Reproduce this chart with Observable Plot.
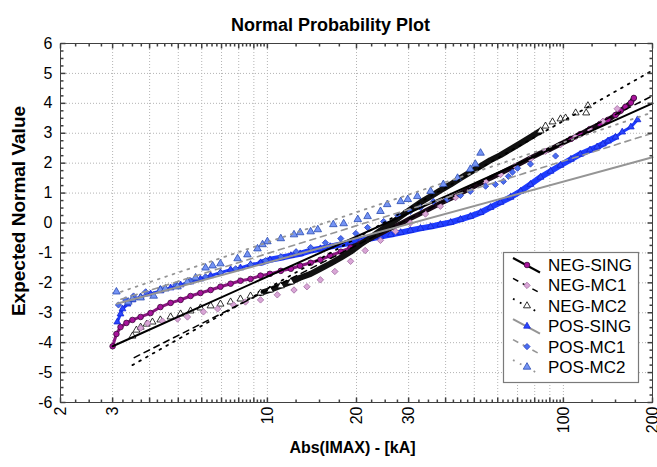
<!DOCTYPE html>
<html>
<head>
<meta charset="utf-8">
<script src="https://cdn.jsdelivr.net/npm/d3@7"></script>
<script src="https://cdn.jsdelivr.net/npm/@observablehq/plot@0.6"></script>
<style>
  html, body { margin: 0; padding: 0; background: white; }
  #wrap { position: relative; width: 657px; height: 467px; }
  #legend { position: absolute; left: 0; top: 0; pointer-events: none; }
</style>
</head>
<body>
<div id="wrap"></div>
<script>
// ---------- data (x = Abs(IMAX) in kA, y = expected normal value) ----------
const xTicks = [2, 3, 4, 5, 6, 7, 8, 9, 10, 20, 30, 40, 50, 60, 70, 80, 90, 100, 200];
const yTicks = [-6, -5, -4, -3, -2, -1, 0, 1, 2, 3, 4, 5, 6];
const seriesNames = ["NEG-SING", "NEG-MC1", "NEG-MC2", "POS-SING", "POS-MC1", "POS-MC2"];

const negSing = [[3.00,-4.12],[3.09,-3.71],[3.19,-3.48],[3.34,-3.34],[3.50,-3.24],[3.73,-3.14],[4.03,-3.01],[4.35,-2.81],[4.71,-2.67],[5.09,-2.57],[5.50,-2.44],[5.94,-2.34],[6.43,-2.24],[6.94,-2.13],[7.51,-2.03],[8.11,-1.93],[8.77,-1.87],[9.48,-1.76],[10.2,-1.70],[11.1,-1.60],[12.0,-1.53],[12.9,-1.43],[14.0,-1.33],[15.1,-1.23],[16.3,-1.09],[17.7,-0.96],[19.1,-0.82],[20.6,-0.69],[22.3,-0.52],[24.1,-0.35],[26.1,-0.18],[28.2,-0.02],[30.4,0.15],[32.9,0.32],[35.6,0.49],[38.4,0.66],[41.6,0.82],[44.9,0.99],[48.5,1.16],[52.5,1.33],[56.7,1.50],[61.3,1.66],[66.3,1.83],[71.7,2.00],[77.4,2.17],[83.7,2.34],[90.5,2.47],[97.8,2.64],[106,2.81],[114,2.97],[123,3.14],[133,3.31],[141.5,3.45],[150,3.61],[156,3.75],[162,3.88],[169,4.02],[173,4.18]];

const negMc1 = [[3.73,-3.51],[3.94,-3.35],[4.42,-3.28],[4.97,-3.21],[5.37,-3.14],[6.08,-2.97],[6.79,-2.87],[7.69,-2.74],[8.43,-2.64],[9.48,-2.57],[10.8,-2.40],[12.3,-2.24],[13.6,-2.13],[15.1,-1.90],[16.9,-1.62],[19.1,-1.28],[21.4,-0.92],[24.1,-0.58],[27.1,-0.28],[30.4,0.00],[34.2,0.30],[38.4,0.56],[43.2,0.85],[48.5,1.10],[54.6,1.38],[61.3,1.62],[68.9,1.90],[77.4,2.14],[87.0,2.40],[97.8,2.62],[110,2.88],[123,3.12],[136,3.40],[152,3.82]];

const negMc2 = [[3.50,-3.78],[3.61,-3.58],[3.73,-3.48],[3.91,-3.38],[4.09,-3.31],[4.35,-3.24],[4.71,-3.14],[5.09,-3.04],[5.50,-2.94],[5.94,-2.84],[6.43,-2.77],[6.94,-2.71],[7.51,-2.64],[8.11,-2.54],[8.77,-2.44],[9.48,-2.34],[10.2,-2.24],[11.1,-2.10],[12.0,-1.97],[12.9,-1.83],[14.0,-1.70],[15.1,-1.53],[16.3,-1.36],[17.7,-1.16],[19.1,-0.96],[20.6,-0.72],[22.3,-0.49],[24.1,-0.25],[26.1,-0.02],[28.2,0.22],[30.4,0.45],[32.9,0.69],[35.6,0.89],[38.4,1.09],[41.6,1.29],[44.9,1.50],[48.5,1.70],[52.5,1.90],[56.7,2.10],[61.3,2.27],[66.3,2.47],[71.7,2.67],[77.4,2.87],[83.7,3.08],[87.0,3.24],[91.9,3.38],[97.8,3.48],[101.7,3.51],[110,3.68],[119.4,3.68],[121,3.92]];

const posSing = [[3.11,-3.31],[3.19,-3.04],[3.24,-2.87],[3.37,-2.71],[3.50,-2.57],[3.73,-2.47],[4.03,-2.37],[4.35,-2.27],[4.71,-2.17],[5.09,-2.07],[5.50,-1.97],[5.94,-1.87],[6.43,-1.76],[6.94,-1.66],[7.51,-1.56],[8.11,-1.50],[8.77,-1.39],[9.48,-1.33],[10.2,-1.23],[11.1,-1.16],[12.0,-1.09],[12.9,-1.03],[14.0,-0.92],[15.1,-0.86],[16.3,-0.79],[17.7,-0.72],[19.1,-0.66],[20.6,-0.59],[22.3,-0.52],[24.1,-0.45],[26.1,-0.39],[28.2,-0.32],[30.4,-0.25],[32.9,-0.18],[35.6,-0.12],[38.4,-0.05],[41.6,0.02],[44.9,0.12],[48.5,0.22],[52.5,0.35],[56.7,0.52],[61.3,0.69],[66.3,0.86],[71.7,1.06],[77.4,1.29],[83.7,1.53],[90.5,1.73],[97.8,1.93],[106,2.13],[114,2.30],[123,2.44],[130,2.54],[136,2.64],[141.5,2.74],[150,2.87],[158,3.04],[169,3.21],[178,3.45]];

const posMc1 = [[3.14,-2.74],[3.32,-2.57],[3.53,-2.44],[3.88,-2.30],[4.35,-2.20],[4.90,-2.07],[5.50,-1.93],[6.18,-1.80],[6.94,-1.66],[7.81,-1.53],[8.77,-1.39],[9.86,-1.26],[11.1,-1.13],[12.5,-0.96],[14.0,-0.82],[15.7,-0.66],[17.7,-0.52],[19.9,-0.35],[21.8,-0.15],[24.7,0.05],[27.6,0.25],[30.4,0.39],[32.9,0.52],[36.4,0.72],[40.5,0.79],[44.9,0.92],[48.5,1.06],[54.6,1.23],[58.9,1.29],[62.7,1.39],[65.2,1.56],[67.3,1.70],[70.0,1.83],[77.4,1.97],[94.1,2.24]];

const posMc2 = [[3.09,-2.30],[3.39,-2.64],[3.50,-2.54],[3.73,-2.50],[4.13,-2.44],[4.35,-2.24],[4.52,-2.20],[4.97,-2.13],[5.37,-1.97],[5.72,-1.83],[6.18,-1.50],[6.53,-1.43],[6.94,-1.36],[7.93,-1.19],[8.56,-1.06],[9.26,-0.86],[9.63,-0.72],[10.0,-0.62],[11.1,-0.52],[12.3,-0.39],[12.9,-0.32],[14.0,-0.29],[14.8,-0.22],[16.7,-0.05],[18.1,-0.02],[20.2,0.12],[21.8,0.22],[24.1,0.39],[25.4,0.62],[28.2,0.72],[29.8,0.79],[32.1,0.89],[35.6,1.06],[39.3,1.29],[43.9,1.50],[48.5,1.80],[50.4,1.97],[52.5,2.34]];

// fitted lines (endpoints)
const negSingFit = [[3.0,-4.12],[200,4.0]];
const negMc1Fit  = [[3.55,-4.5],[200,4.25]];
const negMc2Fit  = [[3.5,-4.75],[200,5.1]];
const posSingFit = [[3.1,-2.7],[200,2.2]];
const posMc1Fit  = [[3.2,-2.55],[200,3.0]];
const posMc2Fit  = [[3.2,-2.3],[200,3.7]];

// ---------- styles ----------
const styles = {
  "NEG-SING": {symbol: "circle",   r: 2.8, fill: "#a8139b", stroke: "#3a0a38", line: "#000000", width: 2,   dash: null},
  "NEG-MC1":  {symbol: "diamond2", r: 2.9, fill: "#d9a6d6", stroke: "#a06aa0", line: "#000000", width: 1.5, dash: "6,5"},
  "NEG-MC2":  {symbol: "triangle", r: 2.6, fill: "#ffffff", stroke: "#000000", line: "#000000", width: 1.8, dash: "1.8,6"},
  "POS-SING": {symbol: "triangle", r: 2.5, fill: "#2a46ff", stroke: "#1424d0", line: "#959595", width: 2,   dash: null},
  "POS-MC1":  {symbol: "diamond2", r: 2.8, fill: "#4a6ef0", stroke: "#2a3ec0", line: "#959595", width: 1.6, dash: "6,5"},
  "POS-MC2":  {symbol: "triangle", r: 2.8, fill: "#7594f5", stroke: "#2a4ab0", line: "#959595", width: 1.8, dash: "1.8,6"}
};
const fits = {"NEG-SING": negSingFit, "NEG-MC1": negMc1Fit, "NEG-MC2": negMc2Fit, "POS-SING": posSingFit, "POS-MC1": posMc1Fit, "POS-MC2": posMc2Fit};

const X = d => d[0], Y = d => d[1];
const dots = (data, name) => {
  const s = styles[name];
  return Plot.dot(data, {x: X, y: Y, symbol: s.symbol, r: s.r, fill: s.fill, stroke: s.stroke, strokeWidth: 0.8});
};
const fitLine = name => {
  const s = styles[name];
  return Plot.line(fits[name], {x: X, y: Y, stroke: s.line, strokeWidth: s.width, strokeDasharray: s.dash || undefined, strokeLinecap: "round"});
};
const tickSym = (dx, dy) => ({draw(ctx) { ctx.moveTo(0, 0); ctx.lineTo(dx, dy); }});

// minor ticks (quarter steps between labelled ticks)
const minorOf = arr => {
  const out = [];
  for (let i = 0; i < arr.length - 1; i++) for (let k = 1; k < 4; k++) out.push(arr[i] + k * (arr[i + 1] - arr[i]) / 4);
  return out;
};
const xMinor = minorOf(xTicks), yMinor = minorOf(yTicks);
const axisColor = "#404040";
const tickMarks = [
  Plot.dot(yTicks, {y: d => d, frameAnchor: "left",  symbol: tickSym(5, 0),  fill: "none", stroke: axisColor}),
  Plot.dot(yMinor, {y: d => d, frameAnchor: "left",  symbol: tickSym(3, 0),  fill: "none", stroke: axisColor}),
  Plot.dot(yTicks, {y: d => d, frameAnchor: "right", symbol: tickSym(-5, 0), fill: "none", stroke: axisColor}),
  Plot.dot(yMinor, {y: d => d, frameAnchor: "right", symbol: tickSym(-3, 0), fill: "none", stroke: axisColor}),
  Plot.dot(xTicks, {x: d => d, frameAnchor: "bottom", symbol: tickSym(0, -5), fill: "none", stroke: axisColor}),
  Plot.dot(xMinor, {x: d => d, frameAnchor: "bottom", symbol: tickSym(0, -3), fill: "none", stroke: axisColor}),
  Plot.dot(xTicks, {x: d => d, frameAnchor: "top", symbol: tickSym(0, 5), fill: "none", stroke: axisColor}),
  Plot.dot(xMinor, {x: d => d, frameAnchor: "top", symbol: tickSym(0, 3), fill: "none", stroke: axisColor})
];

const font = "'Liberation Sans', Arial, Helvetica, sans-serif";

const chart = Plot.plot({
  width: 657,
  height: 467,
  marginLeft: 60,
  marginRight: 5,
  marginTop: 43,
  marginBottom: 65,
  style: {fontFamily: font, fontSize: "14px", background: "white", color: "black", overflow: "visible"},
  x: {type: "log", domain: [2, 200], axis: null},
  y: {domain: [-6, 6], axis: null},
  marks: [
    Plot.gridX(xTicks.slice(1, -1), {stroke: "#b4b4b4", strokeOpacity: 1, strokeDasharray: "1,2"}),
    Plot.gridY(yTicks.slice(1, -1), {stroke: "#b4b4b4", strokeOpacity: 1, strokeDasharray: "1,2"}),
    // dense bands
    Plot.line(posSing, {x: X, y: Y, stroke: "#1e3cff", strokeWidth: 3}),
    Plot.line(posSing.filter(d => d[0] >= 9 && d[0] <= 150), {x: X, y: Y, stroke: "#1e3cff", strokeWidth: 6}),
    dots(posSing, "POS-SING"),
    Plot.line(negSing.filter(d => d[0] <= 20), {x: X, y: Y, stroke: "#8a1580", strokeWidth: 3}),
    Plot.line(negSing.filter(d => d[0] >= 19), {x: X, y: Y, stroke: "#1a0a18", strokeWidth: 5}),
    dots(negSing.filter(d => d[0] <= 22 || d[0] >= 105), "NEG-SING"),
    Plot.line(negMc2.filter(d => d[0] >= 9 && d[0] <= 84), {x: X, y: Y, stroke: "#111111", strokeWidth: 6}),
    dots(negMc2.filter(d => d[0] <= 12.5 || d[0] >= 80), "NEG-MC2"),
    dots(negMc1, "NEG-MC1"),
    dots(posMc1, "POS-MC1"),
    dots(posMc2, "POS-MC2"),
    // fitted lines
    ...seriesNames.map(fitLine),
    Plot.frame({stroke: axisColor}),
    ...tickMarks,
    Plot.axisX(xTicks, {anchor: "bottom", tickSize: 0, tickPadding: 4, tickRotate: -90, tickFormat: d => String(d), label: null, fontSize: 16}),
    Plot.axisY(yTicks, {anchor: "left", tickSize: 0, tickPadding: 8, tickFormat: d => String(d), label: null, fontSize: 16}),
    Plot.text(["Normal Probability Plot"], {text: d => d, frameAnchor: "top", dx: -26, dy: -25, fontWeight: "bold", fontSize: 18}),
    Plot.text(["Expected Normal Value"], {text: d => d, frameAnchor: "left", textAnchor: "middle", dx: -42, dy: -12, rotate: -90, fontWeight: "bold", fontSize: 19}),
    Plot.text(["Abs(IMAX) - [kA]"], {text: d => d, frameAnchor: "bottom", textAnchor: "middle", dx: -4, dy: 50, fontWeight: "bold", fontSize: 16})
  ]
});
const wrap = document.getElementById("wrap");
wrap.appendChild(chart);

// ---------- legend ----------
const ns = "http://www.w3.org/2000/svg";
const leg = document.createElementNS(ns, "svg");
leg.setAttribute("id", "legend");
leg.setAttribute("width", 657);
leg.setAttribute("height", 467);
const box = document.createElementNS(ns, "rect");
box.setAttribute("x", 503.5); box.setAttribute("y", 252.5);
box.setAttribute("width", 135); box.setAttribute("height", 130);
box.setAttribute("fill", "white"); box.setAttribute("stroke", "#7a7a7a"); box.setAttribute("stroke-width", 1.2);
leg.appendChild(box);
const symMap = {circle: d3.symbolCircle, diamond2: d3.symbolDiamond2, triangle: d3.symbolTriangle};
seriesNames.forEach((name, i) => {
  const s = styles[name];
  const cy = 265 + i * 20.4;
  const ln = document.createElementNS(ns, "line");
  ln.setAttribute("x1", 513); ln.setAttribute("y1", cy - 7);
  ln.setAttribute("x2", 540); ln.setAttribute("y2", cy + 7.5);
  ln.setAttribute("stroke", s.line); ln.setAttribute("stroke-width", s.width);
  if (s.dash) ln.setAttribute("stroke-dasharray", s.dash);
  leg.appendChild(ln);
  const p = document.createElementNS(ns, "path");
  p.setAttribute("d", d3.symbol(symMap[s.symbol], s.r * s.r * Math.PI)());
  p.setAttribute("transform", `translate(527,${cy})`);
  p.setAttribute("fill", s.fill); p.setAttribute("stroke", s.stroke); p.setAttribute("stroke-width", 0.8);
  leg.appendChild(p);
  const t = document.createElementNS(ns, "text");
  t.setAttribute("x", 548); t.setAttribute("y", cy + 6);
  t.setAttribute("font-family", font); t.setAttribute("font-size", 17);
  t.textContent = name;
  leg.appendChild(t);
});
wrap.appendChild(leg);
</script>
</body>
</html>
